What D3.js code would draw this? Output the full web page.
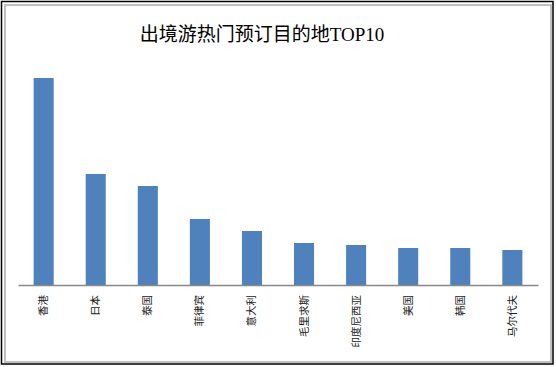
<!DOCTYPE html>
<html>
<head>
<meta charset="utf-8">
<script src="https://cdn.jsdelivr.net/npm/d3@7"></script>
<style>
  body { margin: 0; background: #fff; }
  svg { display: block; }
</style>
</head>
<body>
<div id="chart"></div>
<script>
// data (no value axis shown, relative units)
var categories = ["香港", "日本", "泰国", "菲律宾", "意大利", "毛里求斯", "印度尼西亚", "美国", "韩国", "马尔代夫"];
var values = [207, 111, 99, 66, 54, 42, 40, 37, 37, 35];
var title = "出境游热门预订目的地TOP10";

var width = 556, height = 367;
var svg = d3.select("#chart").append("svg")
	.attr("width", width)
	.attr("height", height);

// frame
svg.append("rect")
	.attr("x", 1.5).attr("y", 1.5)
	.attr("width", 551.5).attr("height", 362.5)
	.attr("fill", "#fff")
	.attr("stroke", "#000")
	.attr("stroke-width", 1.5);
svg.append("rect")
	.attr("x", 5).attr("y", 5)
	.attr("width", 546).attr("height", 357)
	.attr("fill", "none")
	.attr("stroke", "#c0c0c0")
	.attr("stroke-width", 2);

svg.append("text")
	.attr("x", 262)
	.attr("y", 41)
	.attr("text-anchor", "middle")
	.style("font-family", "'Liberation Serif', 'Noto Sans CJK SC', serif")
	.style("font-size", "19px")
	.style("fill", "#000")
	.text(title);

var x = d3.scaleBand()
	.domain(categories)
	.range([18, 538])
	.paddingInner(0.615)
	.paddingOuter(0.3);
var y = d3.scaleLinear()
	.domain([0, 210])
	.range([285, 75]);

svg.selectAll(".bar")
	.data(values)
	.enter()
	.append("rect")
	.attr("class", "bar")
	.attr("x", function(d, i) { return x(categories[i]); })
	.attr("y", function(d) { return y(d); })
	.attr("width", x.bandwidth())
	.attr("height", function(d) { return y(0) - y(d); })
	.attr("fill", "#4f81bd");

var xAxis = d3.axisBottom(x).tickSize(0).tickFormat("");
svg.append("g")
	.attr("transform", "translate(0," + y(0) + ")")
	.call(xAxis)
	.select(".domain")
	.attr("stroke", "#888")
	.attr("stroke-width", 1.5);

svg.selectAll(".lbl")
	.data(categories)
	.enter()
	.append("text")
	.attr("class", "lbl")
	.attr("transform", function(d) {
		return "translate(" + (x(d) + x.bandwidth() / 2 - 1) + ",295) rotate(-90)";
	})
	.attr("text-anchor", "end")
	.attr("dominant-baseline", "central")
	.style("font-family", "'Noto Sans CJK SC', sans-serif")
	.style("font-size", "10.5px")
	.style("fill", "#222")
	.text(function(d) { return d; });
</script>
</body>
</html>
